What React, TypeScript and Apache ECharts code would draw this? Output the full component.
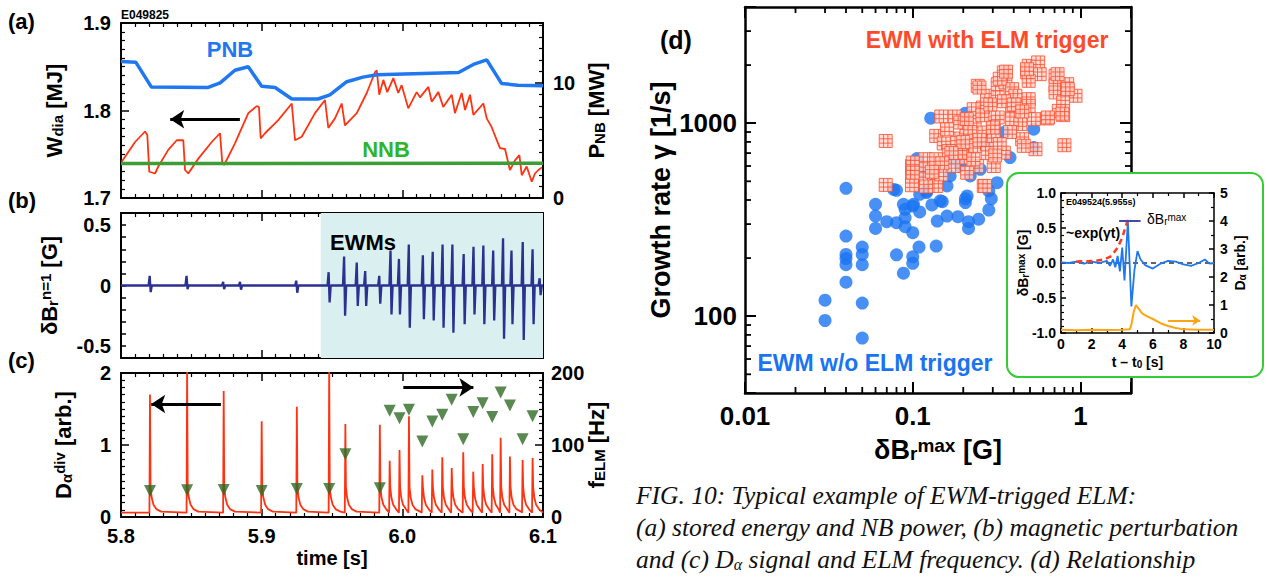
import React, { useEffect, useRef } from 'react';
import * as echarts from 'echarts';

const FONT = 'Liberation Sans';
const SERIF = 'Liberation Serif';

// ---------- panel (a) ----------
const PNB_T = [5.8, 5.8105, 5.8215, 5.862, 5.8705, 5.881, 5.8905, 5.9, 5.9095, 5.9215, 5.94, 5.9485, 5.9605, 5.972, 5.982, 6.008, 6.04, 6.0505, 6.06, 6.0705, 6.082, 6.1];
const PNB_MW = [11.85, 11.8, 9.65, 9.6, 10.0, 11.1, 11.4, 9.7, 9.6, 8.6, 8.6, 8.95, 10.1, 10.5, 10.7, 10.8, 10.9, 11.6, 12.0, 9.95, 9.8, 9.75];
const NNB_T = [5.8, 6.1];
const NNB_MW = [3.0, 3.02];
const WDIA_T = [5.8005, 5.81, 5.8171, 5.8187, 5.8201, 5.8242, 5.8265, 5.8336, 5.8396, 5.8443, 5.8455, 5.8478, 5.855, 5.8645, 5.8704, 5.872, 5.8734, 5.881, 5.8905, 5.8965, 5.8981, 5.8993, 5.9024, 5.9118, 5.9214, 5.9237, 5.9285, 5.9379, 5.945, 5.9474, 5.9521, 5.9569, 5.9592, 5.9676, 5.9747, 5.9806, 5.9818, 5.9836, 5.9865, 5.9893, 5.9936, 5.9971, 5.9995, 6.0042, 6.0102, 6.0126, 6.0185, 6.0209, 6.0256, 6.0291, 6.0351, 6.0374, 6.0422, 6.0446, 6.0481, 6.0505, 6.0576, 6.06, 6.0635, 6.0647, 6.0694, 6.073, 6.0765, 6.0801, 6.0832, 6.0849, 6.0884, 6.092, 6.0943, 6.0967, 6.0993];
const WDIA_MJ = [1.7415, 1.764, 1.776, 1.772, 1.73, 1.728, 1.736, 1.755, 1.766, 1.766, 1.732, 1.728, 1.745, 1.764, 1.774, 1.74, 1.738, 1.7625, 1.797, 1.805, 1.804, 1.768, 1.774, 1.789, 1.808, 1.766, 1.77, 1.797, 1.812, 1.78, 1.791, 1.808, 1.783, 1.797, 1.82, 1.844, 1.846, 1.818, 1.835, 1.821, 1.837, 1.82, 1.829, 1.8025, 1.821, 1.815, 1.827, 1.81, 1.821, 1.804, 1.818, 1.797, 1.82, 1.8006, 1.818, 1.795, 1.808, 1.791, 1.781, 1.776, 1.757, 1.756, 1.732, 1.743, 1.749, 1.726, 1.736, 1.7186, 1.728, 1.732, 1.735];

// ---------- panel (b) ----------
const SMALL_T = [5.8208, 5.847, 5.873, 5.885, 5.925];
const SMALL_UP = [0.08, 0.08, 0.03, 0.03, 0.04];
const SMALL_DN = [-0.055, -0.03, -0.03, -0.035, -0.06];
const BURST_T = [5.948, 5.959, 5.968, 5.974, 5.984, 5.992, 5.998, 6.005, 6.015, 6.022, 6.029, 6.036, 6.044, 6.051, 6.058, 6.065, 6.072, 6.078, 6.086, 6.093, 6.098];
const BURST_UP = [0.11, 0.24, 0.19, 0.12, 0.08, 0.29, 0.22, 0.34, 0.25, 0.28, 0.34, 0.34, 0.26, 0.32, 0.33, 0.29, 0.39, 0.29, 0.36, 0.3, 0.06];
const BURST_DN = [-0.14, -0.25, -0.17, -0.17, -0.15, -0.24, -0.24, -0.35, -0.28, -0.29, -0.35, -0.39, -0.32, -0.24, -0.32, -0.29, -0.44, -0.32, -0.45, -0.32, -0.08];
const EWM_START = 5.942;

// ---------- panel (c) ----------
const ELM_T = [5.8206, 5.847, 5.873, 5.9, 5.925, 5.948, 5.9595, 5.984, 5.991, 5.998, 6.0047, 6.0142, 6.0213, 6.0284, 6.0351, 6.0433, 6.0504, 6.0571, 6.0639, 6.0699, 6.0765, 6.0855, 6.0926];
const ELM_PEAK = [1.7, 2.1, 1.75, 1.33, 1.53, 2.1, 1.29, 1.28, 0.78, 0.93, 1.4, 0.58, 0.66, 0.83, 0.68, 0.9, 0.63, 0.735, 0.87, 1.1, 0.84, 0.79, 0.82];
const F_ELM = [36, 37, 37.5, 36, 39, 39, 87, 40, 147.5, 137, 149, 105, 132.5, 142, 163, 108, 146, 158, 139, 173, 155, 108, 140];
const DA_BASE = 0.06;
const DA_TAIL_DT = [0.0004, 0.0012, 0.0025, 0.0045, 0.008];
const DA_TAIL_V = [0.42, 0.27, 0.17, 0.11, 0.075];

// ---------- panel (d) ----------
const BLUE_PTS = [
  [0.04, 460], [0.08, 449], [0.06, 380], [0.06, 330], [0.06, 285], [0.07, 309], [0.08, 305], [0.09, 358], [0.1, 372], [0.11, 347],
  [0.09, 324], [0.09, 291], [0.1, 271], [0.13, 377], [0.15, 392], [0.11, 428], [0.14, 311], [0.16, 330], [0.186, 328], [0.206, 406],
  [0.206, 388], [0.215, 309], [0.215, 285], [0.247, 318], [0.284, 355], [0.294, 406], [0.04, 260], [0.04, 209], [0.04, 199], [0.04, 185],
  [0.04, 150], [0.05, 228], [0.05, 209], [0.05, 185], [0.08, 208], [0.1, 203], [0.1, 188], [0.088, 167], [0.109, 228], [0.138, 231],
  [0.03, 121], [0.03, 95], [0.05, 117], [0.05, 77],
  [0.128, 1062], [0.206, 1127], [0.106, 656], [0.111, 554], [0.171, 651], [0.192, 600], [0.22, 533], [0.349, 895], [0.526, 931], [0.526, 748],
  [0.38, 664], [0.318, 492], [0.284, 446], [0.211, 420], [0.146, 396], [0.101, 380], [0.088, 380], [0.121, 437], [0.16, 473],
  [0.167, 533], [0.253, 577], [0.077, 454], [0.121, 446], [0.27, 780],
];
const RED_PTS = [
  [0.069, 809], [0.069, 479], [0.148, 1083], [0.178, 1083], [0.138, 859], [0.153, 785], [0.184, 833], [0.099, 600], [0.099, 533], [0.099, 477],
  [0.119, 651], [0.119, 577], [0.119, 512], [0.138, 651], [0.138, 473], [0.148, 543], [0.175, 600], [0.209, 951], [0.209, 748], [0.209, 664],
  [0.236, 763], [0.234, 1028], [0.244, 1562], [0.262, 1206], [0.277, 1387], [0.267, 895], [0.277, 778], [0.304, 1008], [0.304, 859], [0.321, 1593],
  [0.321, 1359], [0.321, 1071], [0.349, 1832], [0.357, 1627], [0.391, 1501], [0.391, 1182], [0.391, 1049], [0.349, 704], [0.304, 600], [0.265, 473],
  [0.242, 600], [0.211, 554], [0.192, 704], [0.164, 718], [0.192, 1008], [0.231, 1182], [0.409, 1387], [0.491, 1982], [0.481, 1832], [0.559, 2065],
  [0.571, 1795], [0.491, 1658], [0.491, 1332], [0.491, 1230], [0.526, 1049], [0.438, 989], [0.449, 826], [0.539, 733], [0.459, 763], [0.71, 1759],
  [0.71, 1562], [0.71, 1443], [0.833, 1593], [0.833, 1471], [0.934, 1387], [0.788, 1280], [0.742, 1158], [0.788, 1101], [0.633, 1058], [0.802, 769],
  [0.1, 625], [0.1, 554], [0.25, 1530], [0.33, 1700], [0.36, 1850], [0.48, 1905], [0.64, 1071], [0.78, 1120], [0.84, 1501], [0.73, 1795],
  [0.27, 473], [0.22, 900], [0.25, 820], [0.28, 700], [0.3, 950], [0.26, 1100], [0.2, 800], [0.17, 700], [0.15, 620], [0.13, 560],
  [0.23, 650], [0.29, 1250], [0.35, 1300], [0.4, 1250], [0.45, 1150], [0.38, 900], [0.33, 780], [0.31, 680], [0.21, 1050], [0.16, 930], [0.12, 470],
];
const D_MINOR_Y = [50, 60, 70, 80, 90, 200, 300, 400, 500, 600, 700, 800, 900, 2000, 3000];
const D_MINOR_X = [0.02, 0.03, 0.04, 0.05, 0.06, 0.07, 0.08, 0.09, 0.2, 0.3, 0.4, 0.5, 0.6, 0.7, 0.8, 0.9];

// ---------- inset ----------
const IN_T = [0, 0.5, 1.0, 1.5, 2.0, 2.5, 3.0, 3.2, 3.4, 3.55, 3.7, 3.85, 4.0, 4.15, 4.37, 4.6, 4.8, 5.0, 5.2, 5.5, 6.0, 6.5, 7.0, 7.5, 8.0, 8.5, 9.0, 9.4, 9.7, 10];
const IN_DB = [0.01, 0.0, 0.02, -0.01, 0.02, 0.0, 0.03, -0.04, 0.05, -0.06, 0.1, -0.12, 0.22, -0.25, 0.6, -0.62, -0.1, 0.17, 0.05, -0.03, -0.08, -0.01, 0.03, 0.02, -0.02, -0.04, 0.0, 0.05, -0.01, 0.0];
const IN_EXP_T = [1.0, 2.2, 2.8, 3.3, 3.7, 4.0, 4.3, 4.4];
const IN_EXP_V = [0.02, 0.03, 0.05, 0.1, 0.22, 0.36, 0.57, 0.62];
const IN_MAX_T = [3.8, 5.2];
const IN_MAX_V = [0.6, 0.6];
const IN_ZERO_T = [0, 10];
const IN_DA_T = [0, 1, 2, 3, 4, 4.5, 4.6, 4.75, 4.9, 5.0, 5.1, 5.3, 5.6, 6.0, 6.5, 7.0, 7.5, 8.0, 9.0, 10];
const IN_DA_V = [0.12, 0.1, 0.12, 0.11, 0.12, 0.13, 0.3, 0.75, 1.0, 0.92, 0.85, 0.7, 0.6, 0.5, 0.35, 0.25, 0.18, 0.13, 0.12, 0.12];

const zip = (a: number[], b: number[]) => a.map((v, i) => [v, b[i]]);

function buildDBr() {
  const ev: number[][] = [];
  SMALL_T.forEach((t, i) => ev.push([t, SMALL_UP[i], SMALL_DN[i]]));
  BURST_T.forEach((t, i) => ev.push([t, BURST_UP[i], BURST_DN[i]]));
  ev.sort((a, b) => a[0] - b[0]);
  const pts: number[][] = [[5.8, 0]];
  ev.forEach(([t, up, dn]) => {
    pts.push([t - 0.0012, 0], [t - 0.0004, up], [t + 0.0003, dn], [t + 0.0011, 0]);
  });
  pts.push([6.1, 0]);
  return pts;
}

function buildDa() {
  const pts: number[][] = [[5.8, DA_BASE]];
  ELM_T.forEach((t, i) => {
    const next = i + 1 < ELM_T.length ? ELM_T[i + 1] : 6.1;
    pts.push([t - 0.0004, DA_BASE], [t, ELM_PEAK[i]]);
    DA_TAIL_DT.forEach((dt, k) => {
      if (t + dt < next - 0.0007) pts.push([t + dt, DA_TAIL_V[k]]);
    });
  });
  pts.push([6.1, DA_BASE]);
  return pts;
}

const black = '#000';

function linAxis(o: any) {
  return {
    type: 'value',
    gridIndex: o.grid,
    position: o.pos,
    min: o.min,
    max: o.max,
    interval: o.interval,
    axisLine: { show: true, onZero: false, lineStyle: { color: black, width: o.lw ?? 2 } },
    axisTick: { show: true, inside: true, length: o.tick ?? 8, lineStyle: { color: black, width: 1.5 } },
    minorTick: { show: !!o.minor, splitNumber: o.minor || 5, length: o.minorLen ?? 4, lineStyle: { color: black, width: 1.2 } },
    splitLine: { show: false },
    minorSplitLine: { show: false },
    axisLabel: {
      show: !!o.labels,
      margin: o.margin ?? 8,
      fontFamily: FONT,
      fontWeight: 'bold',
      fontSize: o.fs ?? 20,
      color: black,
      formatter: o.fmt,
    },
    name: o.name,
    nameLocation: 'middle',
    nameGap: o.nameGap,
    nameRotate: o.nameRotate,
    nameTextStyle: o.nameStyle,
    nameMoveOverlap: false,
    z: o.z ?? 0,
  };
}

const decadeFmt = (v: number) => {
  const l = Math.log10(v);
  if (Math.abs(l - Math.round(l)) > 1e-6) return '';
  return String(Number(Math.pow(10, Math.round(l)).toPrecision(3)));
};

function logAxis(o: any) {
  return {
    type: 'log',
    logBase: 10,
    gridIndex: 3,
    position: o.pos,
    min: o.min,
    max: o.max,
    axisLine: { show: true, onZero: false, lineStyle: { color: black, width: 2.5 } },
    axisTick: { show: true, inside: true, length: 11, lineStyle: { color: black, width: 2 } },
    minorTick: { show: false },
    splitLine: { show: false },
    axisLabel: {
      show: !!o.labels,
      margin: o.margin ?? 8,
      fontFamily: FONT,
      fontWeight: 'bold',
      fontSize: 26,
      color: black,
      formatter: decadeFmt,
    },
    name: o.name,
    nameLocation: 'middle',
    nameGap: o.nameGap,
    nameRotate: o.nameRotate,
    nameTextStyle: o.nameStyle,
    nameMoveOverlap: false,
  };
}

const richName = (size: number, small: number, color = black, weight = 'bold') => ({
  fontFamily: FONT,
  fontWeight: weight,
  fontSize: size,
  color,
  rich: {
    a: { fontFamily: FONT, fontWeight: weight, fontSize: size, color },
    s: { fontFamily: FONT, fontWeight: weight, fontSize: small, color, verticalAlign: 'bottom' },
    p: { fontFamily: FONT, fontWeight: weight, fontSize: small, color, verticalAlign: 'top' },
  },
});

const txt = (x: number, y: number, text: string, o: any = {}) => ({
  type: 'text',
  x,
  y,
  z: o.z ?? 20,
  style: {
    text,
    fill: o.fill || black,
    fontFamily: o.family || FONT,
    fontSize: o.size || 20,
    fontWeight: o.weight || 'bold',
    fontStyle: o.fstyle || 'normal',
    textAlign: o.align || 'left',
    align: o.align || 'left',
    textVerticalAlign: 'middle',
    verticalAlign: 'middle',
    rich: o.rich,
  },
});

const arrowML = (from: number[], to: number[], color = black, width = 3, size = 14) => ({
  silent: true,
  animation: false,
  symbol: ['none', 'arrow'],
  symbolSize: size,
  label: { show: false },
  lineStyle: { color, width, type: 'solid' },
  emphasis: { disabled: true },
  data: [[{ coord: from }, { coord: to }]],
});

const SQUARE = 'path://M0,0H12V12H0Z M4,0V12 M8,0V12 M0,4H12 M0,8H12';

function buildOption(): any {
  const timeFmt = (v: number) => v.toFixed(1);
  const grids = [
    { left: 121, top: 23, width: 422, height: 175 },
    { left: 121, top: 213, width: 422, height: 145 },
    { left: 121, top: 373, width: 422, height: 144 },
    { left: 745, top: 7, width: 386, height: 386 },
    { left: 1061, top: 193, width: 153, height: 140, z: 10 },
  ].map((g) => ({ ...g, containLabel: false, outerBoundsMode: 'none', show: false }));

  const tAx = (grid: number, pos: string, extra: any = {}) =>
    linAxis({ grid, pos, min: 5.8, max: 6.1, interval: 0.1, minor: 10, tick: 8, minorLen: 4, ...extra });

  const xAxis = [
    tAx(0, 'bottom'),
    tAx(0, 'top'),
    tAx(1, 'bottom'),
    tAx(1, 'top'),
    tAx(2, 'bottom', {
      labels: true,
      fmt: timeFmt,
      margin: 9,
      name: 'time [s]',
      nameGap: 31,
      nameStyle: { fontFamily: FONT, fontWeight: 'bold', fontSize: 20, color: black },
    }),
    tAx(2, 'top'),
    logAxis({
      pos: 'bottom',
      min: 0.01,
      max: 2,
      labels: true,
      margin: 10,
      name: '{a|δB}{s|r}{p|max}{a| [G]}',
      nameGap: 43,
      nameStyle: richName(27, 19),
    }),
    logAxis({ pos: 'top', min: 0.01, max: 2 }),
    linAxis({
      grid: 4, pos: 'bottom', min: 0, max: 10, interval: 2, minor: 2, tick: 5, minorLen: 3, lw: 1.5,
      labels: true, fs: 14, margin: 4, z: 10,
      name: '{a|t – t}{s|0}{a| [s]}', nameGap: 22, nameStyle: richName(14, 10),
    }),
    linAxis({ grid: 4, pos: 'top', min: 0, max: 10, interval: 2, minor: 2, tick: 5, minorLen: 3, lw: 1.5, z: 10 }),
  ];

  const yAxis = [
    linAxis({
      grid: 0, pos: 'left', min: 1.7, max: 1.9, interval: 0.1, minor: 10, labels: true, fmt: timeFmt, margin: 10,
      name: '{a|W}{s|dia}{a| [MJ]}', nameGap: 56, nameRotate: 90, nameStyle: richName(22, 15),
    }),
    linAxis({
      grid: 0, pos: 'right', min: 0, max: 15.2, interval: 10, minor: 10, labels: true, margin: 10,
      fmt: (v: number) => (v === 0 || v === 10 ? String(v) : ''),
      name: '{a|P}{s|NB}{a| [MW]}', nameGap: 42, nameRotate: 90, nameStyle: richName(22, 15),
    }),
    linAxis({
      grid: 1, pos: 'left', min: -0.6, max: 0.6, interval: 0.1, tick: 5, labels: true, margin: 10,
      fmt: (v: number) => (Math.abs(v - 0.5) < 1e-6 ? '0.5' : Math.abs(v) < 1e-6 ? '0' : Math.abs(v + 0.5) < 1e-6 ? '-0.5' : ''),
      name: '{a|δB}{s|r}{p|n=1}{a| [G]}', nameGap: 61, nameRotate: 90, nameStyle: richName(22, 15),
    }),
    linAxis({ grid: 1, pos: 'right', min: -0.6, max: 0.6, interval: 0.1, tick: 5 }),
    linAxis({
      grid: 2, pos: 'left', min: 0, max: 2, interval: 1, minor: 10, labels: true, margin: 10,
      name: '{a|D}{s|α}{p|div}{a| [arb.]}', nameGap: 47, nameRotate: 90, nameStyle: richName(22, 15),
    }),
    linAxis({
      grid: 2, pos: 'right', min: 0, max: 200, interval: 100, minor: 10, labels: true, margin: 8,
      name: '{a|f}{s|ELM}{a| [Hz]}', nameGap: 42, nameRotate: 90, nameStyle: richName(22, 15),
    }),
    logAxis({
      pos: 'left', min: 40, max: 4000, labels: true, margin: 8,
      name: 'Growth rate γ [1/s]', nameGap: 71, nameRotate: 90,
      nameStyle: { fontFamily: FONT, fontWeight: 'bold', fontSize: 27, color: black },
    }),
    logAxis({ pos: 'right', min: 40, max: 4000 }),
    linAxis({
      grid: 4, pos: 'left', min: -1, max: 1, interval: 0.5, minor: 5, tick: 5, minorLen: 3, lw: 1.5,
      labels: true, fs: 14, margin: 5, z: 10, fmt: (v: number) => v.toFixed(1),
      name: '{a|δB}{s|r}{p|max}{a| [G]}', nameGap: 31, nameRotate: 90, nameStyle: richName(14, 10),
    }),
    linAxis({
      grid: 4, pos: 'right', min: 0, max: 5, interval: 1, minor: 2, tick: 5, minorLen: 3, lw: 1.5,
      labels: true, fs: 14, margin: 6, z: 10,
      name: '{a|D}{s|α}{a| [arb.]}', nameGap: 19, nameRotate: 90, nameStyle: richName(14, 10),
    }),
  ];

  const lineBase = { type: 'line', symbol: 'none', silent: true, animation: false };

  const minorTickData = [
    ...D_MINOR_Y.map((v) => [0.01, v, 0]),
    ...D_MINOR_X.map((v) => [v, 40, 1]),
  ];

  const series: any[] = [
    // (a)
    { ...lineBase, xAxisIndex: 0, yAxisIndex: 0, data: zip(WDIA_T, WDIA_MJ), lineStyle: { color: '#ff3311', width: 1.8 },
      markLine: arrowML([5.8845, 1.79], [5.835, 1.79]) },
    { ...lineBase, xAxisIndex: 0, yAxisIndex: 1, data: zip(NNB_T, NNB_MW), lineStyle: { color: '#3c9e34', width: 3.5 } },
    { ...lineBase, xAxisIndex: 0, yAxisIndex: 1, data: zip(PNB_T, PNB_MW), lineStyle: { color: '#1f78f0', width: 3.5 } },
    // (b)
    { ...lineBase, xAxisIndex: 2, yAxisIndex: 2, data: buildDBr(), lineStyle: { color: '#2b3190', width: 2.3 },
      markArea: { silent: true, itemStyle: { color: '#daf0f0' }, data: [[{ xAxis: EWM_START }, { xAxis: 6.1 }]] } },
    // (c)
    { ...lineBase, xAxisIndex: 4, yAxisIndex: 4, data: buildDa(), lineStyle: { color: '#ff3311', width: 1.8 },
      markLine: arrowML([5.871, 1.57], [5.8215, 1.57]) },
    { type: 'scatter', xAxisIndex: 4, yAxisIndex: 5, silent: true, data: zip(ELM_T, F_ELM), symbol: 'triangle', symbolRotate: 180,
      symbolSize: 12, itemStyle: { color: '#2f6a25' }, z: 4,
      markLine: arrowML([6.0007, 180], [6.0505, 180]) },
    // (d)
    {
      type: 'custom', xAxisIndex: 6, yAxisIndex: 6, silent: true, clip: false, z: 3, data: minorTickData,
      renderItem: (_p: any, api: any) => {
        const kind = api.value(2);
        if (kind === 0) {
          const v = api.value(1);
          const a = api.coord([0.01, v]);
          const b = api.coord([2, v]);
          return {
            type: 'group',
            children: [
              { type: 'line', shape: { x1: a[0], y1: a[1], x2: a[0] + 6, y2: a[1] }, style: { stroke: black, lineWidth: 1.8 } },
              { type: 'line', shape: { x1: b[0] - 6, y1: b[1], x2: b[0], y2: b[1] }, style: { stroke: black, lineWidth: 1.8 } },
            ],
          };
        }
        const v = api.value(0);
        const a = api.coord([v, 40]);
        const b = api.coord([v, 4000]);
        return {
          type: 'group',
          children: [
            { type: 'line', shape: { x1: a[0], y1: a[1], x2: a[0], y2: a[1] - 6 }, style: { stroke: black, lineWidth: 1.8 } },
            { type: 'line', shape: { x1: b[0], y1: b[1], x2: b[0], y2: b[1] + 6 }, style: { stroke: black, lineWidth: 1.8 } },
          ],
        };
      },
    },
    { type: 'scatter', xAxisIndex: 6, yAxisIndex: 6, silent: true, data: BLUE_PTS, symbol: 'circle', symbolSize: 13,
      itemStyle: { color: '#1a74f2' }, z: 2 },
    { type: 'scatter', xAxisIndex: 6, yAxisIndex: 6, silent: true, data: RED_PTS, symbol: SQUARE, symbolSize: 13,
      itemStyle: { color: '#ffd4ca', borderColor: '#ff4a2a', borderWidth: 1 }, z: 2 },
    // inset
    { ...lineBase, xAxisIndex: 8, yAxisIndex: 8, z: 10, data: zip(IN_ZERO_T, [0, 0]), lineStyle: { color: '#333', width: 1.5, type: [5, 4] } },
    { ...lineBase, xAxisIndex: 8, yAxisIndex: 9, z: 10, data: zip(IN_DA_T, IN_DA_V), lineStyle: { color: '#ffa514', width: 2 },
      markLine: { ...arrowML([7.0, 0.45], [9.1, 0.45], '#ffa514', 2, 8), z: 10 } },
    { ...lineBase, xAxisIndex: 8, yAxisIndex: 8, z: 11, data: zip(IN_T, IN_DB), lineStyle: { color: '#1f78f0', width: 1.8 } },
    { ...lineBase, xAxisIndex: 8, yAxisIndex: 8, z: 12, data: zip(IN_EXP_T, IN_EXP_V), lineStyle: { color: '#ff3b1f', width: 2.5, type: [6, 4] } },
    { ...lineBase, xAxisIndex: 8, yAxisIndex: 8, z: 12, data: zip(IN_MAX_T, IN_MAX_V), lineStyle: { color: '#4848a8', width: 2 } },
  ];

  const subRich = (size: number, small: number, weight = 'bold', color = black, family = FONT, fstyle = 'normal') => ({
    s: { fontFamily: family, fontStyle: fstyle, fontWeight: weight, fontSize: small, fill: color, color, verticalAlign: 'bottom' },
    p: { fontFamily: family, fontStyle: fstyle, fontWeight: weight, fontSize: small, fill: color, color, verticalAlign: 'top' },
    a: { fontFamily: family, fontStyle: fstyle, fontWeight: weight, fontSize: size, fill: color, color },
  });

  const capStyle = { family: SERIF, size: 25.5, weight: 'normal', fstyle: 'italic', fill: '#111' };

  const graphic = [
    { type: 'rect', z: 5, shape: { x: 1007, y: 173, width: 256, height: 204, r: 12 }, style: { fill: '#fff', stroke: '#33cc33', lineWidth: 2 } },
    txt(8, 21, '(a)', { size: 22 }),
    txt(8, 200, '(b)', { size: 22 }),
    txt(8, 360, '(c)', { size: 22 }),
    txt(660, 40, '(d)', { size: 25 }),
    txt(121, 15, 'E049825', { size: 12 }),
    txt(230, 49, 'PNB', { size: 22, fill: '#1f78f0', align: 'center' }),
    txt(386, 149, 'NNB', { size: 22, fill: '#2fb52a', align: 'center' }),
    txt(363, 242, 'EWMs', { size: 22, align: 'center' }),
    txt(987, 40, 'EWM with ELM trigger', { size: 23, fill: '#ff4a2a', align: 'center' }),
    txt(875, 363, 'EWM w/o ELM trigger', { size: 23, fill: '#1a74f2', align: 'center' }),
    txt(1066, 202, 'E049524(5.955s)', { size: 9 }),
    txt(1066, 233, '~exp(γt)', { size: 14 }),
    txt(1147, 219, '{a|δB}{s|r}{p|max}', { size: 14, weight: 'normal', rich: subRich(14, 10, 'normal') }),
    txt(636, 495, 'FIG. 10: Typical example of EWM-trigged ELM:', capStyle),
    txt(636, 527, '(a) stored energy and NB power, (b) magnetic perturbation', capStyle),
    txt(636, 559, '{a|and (c) D}{s|α}{a| signal and ELM frequency. (d) Relationship}', {
      ...capStyle,
      rich: subRich(25.5, 16, 'normal', '#111', SERIF, 'italic'),
    }),
  ];

  return {
    animation: false,
    backgroundColor: '#fff',
    textStyle: { fontFamily: FONT },
    grid: grids,
    xAxis,
    yAxis,
    series,
    graphic,
  };
}

export default function App() {
  const ref = useRef<HTMLDivElement>(null);
  useEffect(() => {
    if (!ref.current) return;
    const chart = echarts.init(ref.current, undefined, { renderer: 'svg' });
    chart.setOption(buildOption());
    return () => chart.dispose();
  }, []);
  return (
    <div
      ref={ref}
      style={{ position: 'fixed', left: 0, top: 0, width: 1267, height: 577, background: '#fff' }}
    />
  );
}
